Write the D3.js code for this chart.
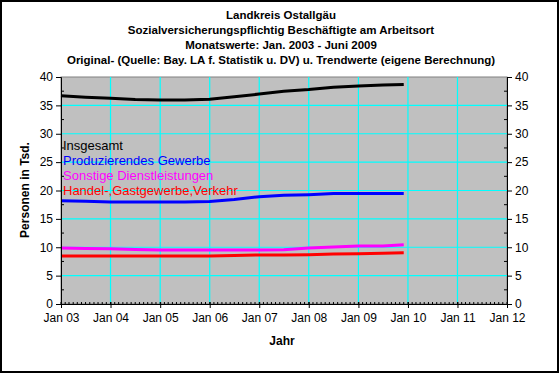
<!DOCTYPE html>
<html>
<head>
<meta charset="utf-8">
<script src="https://cdn.jsdelivr.net/npm/d3@7"></script>
<style>
  body { margin: 0; background: #fff; }
  svg text { font-family: "Liberation Sans", Arial, sans-serif; }
</style>
</head>
<body>
<div id="chart"></div>
<script>
// Landkreis Ostallgäu - Beschäftigte, trend lines

// Data (half-year readings from the picture, thousands)
const dates = ['2003-01', '2003-07', '2004-01', '2004-07', '2005-01', '2005-07', '2006-01', '2006-07',
  '2007-01', '2007-07', '2008-01', '2008-07', '2009-01', '2009-07', '2009-12'];
const insgesamt = [36.7, 36.45, 36.25, 36.05, 35.95, 35.95, 36.1, 36.5, 37.0, 37.5, 37.8, 38.2, 38.4, 38.6, 38.7];
const produzierend = [18.2, 18.1, 17.97, 17.97, 17.97, 17.97, 18.06, 18.4, 18.9, 19.15, 19.26, 19.45, 19.45, 19.45, 19.45];
const dienstleistung = [9.87, 9.8, 9.75, 9.6, 9.5, 9.5, 9.5, 9.5, 9.5, 9.55, 9.87, 10.05, 10.2, 10.2, 10.45];
const handel = [8.46, 8.46, 8.46, 8.46, 8.46, 8.46, 8.46, 8.55, 8.63, 8.63, 8.7, 8.8, 8.86, 8.95, 9.04];

const titleLines = [
  'Landkreis Ostallgäu',
  'Sozialversicherungspflichtig Beschäftigte am Arbeitsort',
  'Monatswerte: Jan. 2003 - Juni 2009',
  'Original- (Quelle: Bay. LA f. Statistik u. DV) u. Trendwerte (eigene Berechnung)'
];
const yTicks = [0, 5, 10, 15, 20, 25, 30, 35, 40];

const series = [
  { label: 'Insgesamt', values: insgesamt, color: '#000000' },
  { label: 'Produzierendes Gewerbe', values: produzierend, color: '#0000ff' },
  { label: 'Sonstige Dienstleistungen', values: dienstleistung, color: '#ff00ff' },
  { label: 'Handel-,Gastgewerbe,Verkehr', values: handel, color: '#ff0000' },
];

const width = 560, height = 374;
const plot = { left: 61, right: 507, top: 77, bottom: 304 };
const parse = d3.timeParse('%Y-%m');
const fmtTick = d3.timeFormat('Jan %y');

const svg = d3.select('#chart').append('svg')
  .attr('width', width)
  .attr('height', height);

svg.append('rect')
  .attr('x', 1).attr('y', 1)
  .attr('width', width - 3).attr('height', height - 3)
  .attr('fill', '#fff')
  .attr('stroke', '#000')
  .attr('stroke-width', 2);

const x = d3.scaleTime()
  .domain([new Date(2003, 0, 1), new Date(2012, 0, 1)])
  .range([plot.left, plot.right]);
const y = d3.scaleLinear()
  .domain([0, 40])
  .range([plot.bottom, plot.top]);

// titles
svg.selectAll('.title')
  .data(titleLines)
  .enter().append('text')
  .attr('x', 281)
  .attr('y', (d, i) => 19 + i * 15.1)
  .attr('text-anchor', 'middle')
  .attr('font-size', '11.5px')
  .attr('font-weight', 'bold')
  .text(d => d);

// plot area
svg.append('rect')
  .attr('x', plot.left).attr('y', plot.top)
  .attr('width', plot.right - plot.left).attr('height', plot.bottom - plot.top)
  .attr('fill', '#c0c0c0')
  .attr('stroke', '#808080');

const years = x.ticks(d3.timeYear.every(1));

// gridlines
svg.append('g').selectAll('line')
  .data(yTicks.slice(1, -1))
  .enter().append('line')
  .attr('x1', plot.left).attr('x2', plot.right)
  .attr('y1', d => y(d)).attr('y2', d => y(d))
  .attr('stroke', '#00ffff')
  .attr('stroke-width', 1.2);
svg.append('g').selectAll('line')
  .data(years.slice(1, -1))
  .enter().append('line')
  .attr('x1', d => x(d)).attr('x2', d => x(d))
  .attr('y1', plot.top).attr('y2', plot.bottom)
  .attr('stroke', '#00ffff')
  .attr('stroke-width', 1.2);

// lines
const line = d3.line()
  .x((d, i) => x(parse(dates[i])))
  .y(d => y(d));

svg.append('g').selectAll('path')
  .data(series)
  .enter().append('path')
  .attr('d', d => line(d.values))
  .attr('fill', 'none')
  .attr('stroke', d => d.color)
  .attr('stroke-width', 3);

// legend text inside plot
svg.append('g').selectAll('text')
  .data(series)
  .enter().append('text')
  .attr('x', 63)
  .attr('y', (d, i) => 150 + i * 15)
  .attr('font-size', '13px')
  .attr('fill', d => d.color)
  .text(d => d.label);

// axes
const yLeft = d3.axisLeft(y).tickValues(yTicks).tickSize(5).tickPadding(3);
const yRight = d3.axisRight(y).tickValues(yTicks).tickSize(5).tickPadding(3);

const gl = svg.append('g').attr('transform', `translate(${plot.left},0)`).call(yLeft);
const gr = svg.append('g').attr('transform', `translate(${plot.right},0)`).call(yRight);
[gl, gr].forEach(g => {
  g.select('.domain').attr('stroke', '#000');
  g.selectAll('text').attr('font-size', '12px').attr('font-family', '"Liberation Sans", Arial, sans-serif');
});

// minor y ticks (inside)
const minorY = d3.range(2.5, 40, 5);
svg.append('g').selectAll('line')
  .data(minorY)
  .enter().append('line')
  .attr('x1', plot.left).attr('x2', plot.left + 3)
  .attr('y1', d => y(d)).attr('y2', d => y(d))
  .attr('stroke', '#000');
svg.append('g').selectAll('line')
  .data(minorY)
  .enter().append('line')
  .attr('x1', plot.right - 3).attr('x2', plot.right)
  .attr('y1', d => y(d)).attr('y2', d => y(d))
  .attr('stroke', '#000');

// x axis
const xAxis = d3.axisBottom(x).tickValues(years).tickFormat(fmtTick).tickSize(4).tickPadding(5);
const gx = svg.append('g').attr('transform', `translate(0,${plot.bottom})`).call(xAxis);
gx.select('.domain').attr('stroke', '#000');
gx.selectAll('.tick line').attr('y1', -2);
gx.selectAll('text').attr('font-size', '12px').attr('font-family', '"Liberation Sans", Arial, sans-serif');

// minor monthly ticks
svg.append('g').selectAll('line')
  .data(x.ticks(d3.timeMonth.every(1)))
  .enter().append('line')
  .attr('x1', d => x(d)).attr('x2', d => x(d))
  .attr('y1', plot.bottom - 2).attr('y2', plot.bottom)
  .attr('stroke', '#000');

// axis titles
svg.append('text')
  .attr('transform', 'translate(29,190) rotate(-90)')
  .attr('text-anchor', 'middle')
  .attr('font-size', '12px')
  .attr('font-weight', 'bold')
  .text('Personen in Tsd.');

svg.append('text')
  .attr('x', 282)
  .attr('y', 345)
  .attr('text-anchor', 'middle')
  .attr('font-size', '12px')
  .attr('font-weight', 'bold')
  .text('Jahr');
</script>
</body>
</html>
